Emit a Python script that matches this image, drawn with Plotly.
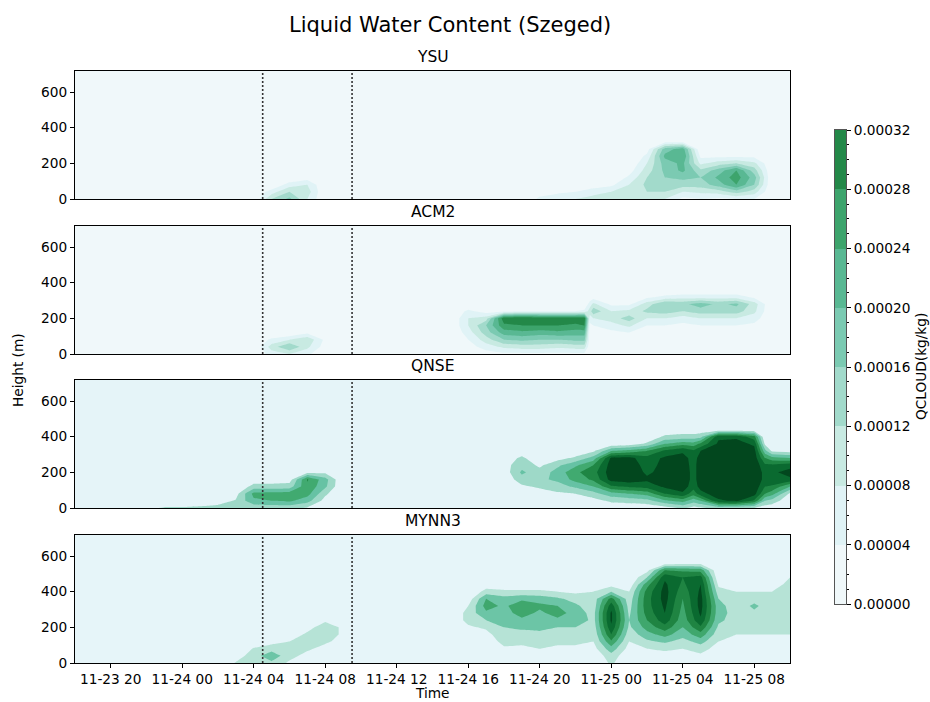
import pandas as pd
import plotly.graph_objects as go

# ---------------------------------------------------------------------------
# Data: cloud water mixing ratio (QCLOUD) over Szeged, in units of 1e-5 kg/kg.
# Each model is stored as a list of profile columns: the hour of each column
# (hours after 2021-11-23 18:00) and the values from the ground upwards.
# Levels above the last listed value of a profile are cloud-free (0).
# ---------------------------------------------------------------------------
T0 = pd.Timestamp("2021-11-23 18:00")
T_END_HOURS = 40
HEIGHTS = [0, 40, 80, 120, 160, 200, 240, 280, 320, 360, 400, 440, 480, 520, 560, 600, 718]

ysu_hours = [0, 10, 11, 12, 13, 14, 25, 26, 27, 28, 29, 30, 31, 32, 33, 34, 35, 36, 37, 38, 39, 40]
ysu_qc = [
    [], [],
    [12, 6], [17, 12, 6], [8, 10, 8, 2], [],
    [],
    [5, 2], [7, 3], [8, 4, 1], [10, 6, 2], [10, 8, 3],
    [11, 10, 8, 5, 2],
    [10, 12, 13, 12, 10, 8, 5, 2],
    [8, 12, 15, 16, 17, 18, 21, 18, 3],
    [3, 8, 14, 17, 21, 21, 24, 22, 3],
    [4, 9, 14, 16, 13, 7, 3],
    [3, 10, 18, 21, 18, 10, 3],
    [4, 14, 24, 26, 24, 12, 3],
    [4, 10, 16, 18, 14, 9, 3],
    [], [],
]

acm2_hours = [0, 10, 11, 12, 13, 14, 21, 22, 23, 24, 25, 26, 27, 28, 28.5, 28.8, 29,
              30, 31, 32, 33, 34, 35, 36, 37, 38, 39, 40]
acm2_qc = [
    [], [],
    [6, 10, 5], [8, 16, 8], [5, 9, 11, 3], [0, 2, 3],
    [],
    [0, 2, 4, 6, 8, 8, 5],
    [2, 6, 10, 14, 16, 10, 2],
    [3, 9, 16, 22, 27, 31, 3],
    [3, 10, 17, 23, 28, 32, 4],
    [3, 10, 16, 22, 28, 31, 4],
    [3, 9, 16, 23, 28, 31, 4],
    [3, 10, 17, 22, 27, 31, 4],
    [3, 10, 17, 22, 28, 31, 5],
    [0, 1, 2, 2, 3, 6, 10, 6, 1],
    [0, 0, 1, 2, 4, 8, 15, 9, 2],
    [0, 0, 1, 3, 6, 10, 8, 3],
    [0, 0, 1, 4, 9, 14, 9, 3],
    [0, 0, 0, 2, 4, 8, 13, 10, 3],
    [0, 0, 0, 2, 4, 8, 14, 16, 5],
    [0, 0, 0, 1, 3, 6, 12, 15, 6],
    [0, 0, 0, 2, 4, 8, 14, 18, 6],
    [0, 0, 0, 2, 4, 8, 14, 15, 6],
    [0, 0, 0, 2, 4, 8, 14, 17, 6],
    [0, 0, 0, 1, 3, 6, 9, 10, 3],
    [], [],
]

qnse_hours = [0, 4, 5, 6, 7, 8, 9, 10, 11, 12, 13, 14, 15, 24, 25, 26, 27, 28, 29, 30, 31,
              32, 33, 34, 34.6, 35, 36, 37, 38, 38.6, 39, 40]
qnse_qc = [
    [],
    [8], [11, 2], [11, 3], [12, 4], [13, 6], [15, 11, 6],
    [12, 28, 33, 14, 4],
    [13, 30, 34, 14, 4],
    [13, 32, 35, 15, 5],
    [9, 24, 34, 38, 41, 7],
    [2, 6, 12, 22, 24, 8],
    [],
    [0, 0, 0, 0, 2, 4, 6, 4],
    [0, 0, 2, 8, 16, 22, 16, 12, 4],
    [0, 0, 4, 12, 18, 14, 8, 2],
    [0, 2, 8, 16, 22, 24, 18, 6],
    [0, 2, 10, 22, 34, 38, 28, 12, 2],
    [0, 6, 16, 30, 42, 46, 40, 24, 8],
    [3, 12, 26, 48, 64, 66, 65, 62, 30, 2],
    [2, 14, 30, 52, 66, 68, 66, 63, 34, 4],
    [3, 16, 34, 54, 62, 58, 56, 54, 40, 12, 2],
    [5, 28, 50, 62, 64, 64, 63, 62, 52, 30, 12, 2],
    [12, 34, 58, 66, 68, 68, 66, 64, 58, 36, 14, 3],
    [6, 24, 44, 54, 56, 56, 56, 56, 52, 34, 14, 3],
    [8, 30, 56, 64, 66, 66, 66, 64, 60, 42, 16, 4],
    [14, 58, 66, 70, 72, 72, 70, 68, 66, 62, 58, 0],
    [12, 62, 68, 72, 74, 74, 72, 70, 68, 64, 58, 0],
    [10, 48, 64, 68, 70, 70, 68, 66, 64, 58, 44, 0],
    [4, 20, 40, 50, 56, 56, 52, 40, 24, 8],
    [3, 16, 34, 48, 58, 58, 52, 34, 8],
    [0, 2, 8, 30, 58, 64, 56, 30, 6],
]

mynn3_hours = [0, 8, 9, 10, 11, 12, 13, 14, 15, 21, 22, 23, 24, 25, 26, 27, 28, 29, 30,
               31, 32, 33, 34, 35, 36, 37, 38, 39, 40]
mynn3_qc = [
    [], [],
    [11, 4], [18, 16, 11, 3], [18, 26, 16, 6], [8, 14, 14, 10, 4],
    [2, 6, 12, 16, 12, 6], [0, 2, 6, 12, 16, 16, 8], [0, 0, 2, 6, 8, 8, 4],
    [],
    [0, 0, 0, 0, 2, 8, 14, 14, 10, 4],
    [0, 0, 0, 2, 6, 12, 20, 28, 34, 30, 14, 4],
    [0, 2, 8, 14, 18, 20, 24, 26, 28, 24, 12, 4],
    [0, 2, 8, 12, 16, 22, 28, 34, 36, 28, 12, 4],
    [0, 4, 10, 14, 18, 22, 24, 28, 32, 26, 12, 3],
    [0, 2, 8, 12, 16, 20, 28, 34, 30, 22, 10, 2],
    [0, 3, 8, 12, 16, 20, 30, 26, 22, 16, 8, 2],
    [0, 2, 6, 10, 12, 14, 16, 16, 14, 14, 10, 4],
    [12, 16, 26, 38, 50, 58, 62, 62, 56, 44, 20, 6],
    [0, 2, 6, 10, 14, 18, 20, 18, 16, 14, 10, 3],
    [0, 4, 10, 18, 26, 34, 40, 44, 46, 46, 44, 36, 20, 6],
    [2, 6, 12, 22, 34, 46, 56, 60, 62, 64, 64, 62, 58, 40, 4],
    [2, 6, 10, 16, 24, 30, 34, 36, 38, 40, 44, 48, 50, 38, 6],
    [2, 8, 14, 24, 36, 48, 58, 62, 64, 64, 62, 60, 54, 36, 6],
    [0, 2, 6, 10, 14, 18, 22, 24, 24, 20, 14, 8, 2],
    [0, 0, 2, 6, 10, 14, 16, 16, 14, 14, 10, 4],
    [0, 0, 2, 6, 10, 14, 16, 18, 22, 16, 10, 3],
    [0, 0, 2, 6, 10, 14, 16, 16, 14, 14, 10, 4],
    [0, 0, 2, 6, 10, 14, 16, 18, 20, 20, 18, 14, 10, 4],
]

# Reference times marked with dotted lines
MARK_TIMES = ["2021-11-24 04:30", "2021-11-24 09:30"]

# Colour-bar levels (kg/kg)
CBAR_LEVELS = [0.0, 0.00004, 0.00008, 0.00012, 0.00016, 0.00020, 0.00024, 0.00028, 0.00032]

# Band colours (lowest band first) for each contour set
PAL_FINE = ["#f0f8fa", "#e0f3f6", "#c8eae2", "#a2dacb", "#7bcab2", "#59b893", "#3da46c", "#238848"]
PAL_QNSE = ["#e5f4f8", "#9ed9c8", "#66c2a4", "#41aa70", "#1f8644", "#0a6a30", "#02471e"]
PAL_MYNN = ["#e6f5f9", "#b6e3d6", "#6cc5a6", "#3fa76d", "#1f8442", "#0a6a30", "#02471e"]

panels = [
    dict(name="YSU", hours=ysu_hours, qc=ysu_qc, step=0.00004, pal=PAL_FINE),
    dict(name="ACM2", hours=acm2_hours, qc=acm2_qc, step=0.00004, pal=PAL_FINE),
    dict(name="QNSE", hours=qnse_hours, qc=qnse_qc, step=0.0001, pal=PAL_QNSE),
    dict(name="MYNN3", hours=mynn3_hours, qc=mynn3_qc, step=0.0001, pal=PAL_MYNN),
]

W, H = 930, 702
FONT = "DejaVu Sans"
TICK_SIZE = 13.7

# Pixel layout of the figure
PX_LEFT, PX_RIGHT = 75, 790
PANEL_TOPS = [71, 226, 380, 535]
PANEL_H = 128
CB_X0, CB_X1, CB_Y0, CB_Y1 = 835, 846, 130, 604


def px_x(px):
    return px / W


def px_y(py):
    return 1 - py / H


def to_times(hours):
    return [T0 + pd.Timedelta(hours=h) for h in hours]


def build_grid(profiles):
    nz = len(HEIGHTS)
    cols = [list(p) + [0] * (nz - len(p)) for p in profiles]
    return [[cols[j][i] * 1e-5 for j in range(len(cols))] for i in range(nz)]


fig = go.Figure()
layout = dict(
    template="none",
    width=W, height=H, autosize=False,
    margin=dict(l=0, r=0, t=0, b=0, pad=0),
    paper_bgcolor="white", plot_bgcolor="white",
    font=dict(family=FONT, size=TICK_SIZE, color="black"),
    showlegend=False,
)

t_start = T0
t_end = T0 + pd.Timedelta(hours=T_END_HOURS)
annotations = []
shapes = []

for i, p in enumerate(panels):
    k = i + 1
    xa = "x" if k == 1 else f"x{k}"
    ya = "y" if k == 1 else f"y{k}"
    n = len(p["pal"])
    step = p["step"]
    fig.add_trace(go.Contour(
        x=to_times(p["hours"]), y=HEIGHTS, z=build_grid(p["qc"]),
        xaxis=xa, yaxis=ya,
        autocontour=False,
        contours=dict(start=step, end=(n - 1) * step, size=step,
                      coloring="fill", showlines=False),
        colorscale=[[j / (n - 1), c] for j, c in enumerate(p["pal"])],
        line=dict(width=0, smoothing=0), showscale=False, hoverinfo="skip",
    ))
    top = PANEL_TOPS[i]
    bottom = top + PANEL_H
    last = (k == len(panels))
    layout["xaxis" if k == 1 else f"xaxis{k}"] = dict(
        domain=[px_x(PX_LEFT), px_x(PX_RIGHT)],
        anchor=ya, type="date", range=[t_start, t_end],
        showgrid=False, zeroline=False, automargin=False,
        showline=True, mirror=True, linecolor="black", linewidth=1,
        ticks="outside" if last else "", ticklen=4, tickwidth=1, tickcolor="black",
        tick0="2021-11-23 20:00", dtick=4 * 3600 * 1000,
        tickformat="%m-%d %H", showticklabels=last,
        tickfont=dict(size=TICK_SIZE),
        matches=None if k == 1 else "x",
    )
    layout["yaxis" if k == 1 else f"yaxis{k}"] = dict(
        domain=[px_y(bottom), px_y(top)],
        anchor=xa, range=[0, 718],
        tickvals=[0, 200, 400, 600],
        showgrid=False, zeroline=False, automargin=False,
        showline=True, mirror=True, linecolor="black", linewidth=1,
        ticks="outside", ticklen=4, tickwidth=1, tickcolor="black",
        tickfont=dict(size=TICK_SIZE),
    )
    annotations.append(dict(
        text=p["name"], x=px_x((PX_LEFT + PX_RIGHT) / 2), y=px_y(top - 14),
        xref="paper", yref="paper", xanchor="center", yanchor="middle",
        showarrow=False, font=dict(size=15.5),
    ))
    for mt in MARK_TIMES:
        shapes.append(dict(
            type="line", xref=xa, yref=f"{ya} domain",
            x0=mt, x1=mt, y0=0, y1=1,
            line=dict(color="#333333", width=1.6, dash="2px,2px"),
        ))

# Colour bar drawn as its own small axis
cb_centers = [(CBAR_LEVELS[j] + CBAR_LEVELS[j + 1]) / 2 for j in range(len(CBAR_LEVELS) - 1)]
nb = len(cb_centers)
cb_scale = []
for j, c in enumerate(PAL_FINE):
    cb_scale.append([j / nb, c])
    cb_scale.append([(j + 1) / nb, c])
fig.add_trace(go.Heatmap(
    x=[0], y=cb_centers, z=[[v] for v in cb_centers],
    zmin=CBAR_LEVELS[0], zmax=CBAR_LEVELS[-1],
    colorscale=cb_scale, showscale=False, hoverinfo="skip",
    xaxis="x5", yaxis="y5",
))
layout["xaxis5"] = dict(
    domain=[px_x(CB_X0), px_x(CB_X1)], anchor="y5", range=[-0.5, 0.5],
    showticklabels=False, ticks="", showgrid=False, zeroline=False, automargin=False,
    showline=True, mirror=True, linecolor="#555555", linewidth=1,
)
layout["yaxis5"] = dict(
    domain=[px_y(CB_Y1), px_y(CB_Y0)], anchor="x5", side="right",
    range=[CBAR_LEVELS[0], CBAR_LEVELS[-1]],
    tickvals=CBAR_LEVELS, tickformat=".5f",
    ticks="outside", ticklen=4, tickwidth=1, tickcolor="black",
    minor=dict(dtick=0.00001, tick0=0, ticks="outside", ticklen=2, tickcolor="black"),
    showgrid=False, zeroline=False, automargin=False,
    showline=True, mirror=True, linecolor="#555555", linewidth=1,
    tickfont=dict(size=TICK_SIZE),
)

annotations += [
    dict(text="Liquid Water Content (Szeged)", x=px_x(450), y=px_y(25),
         xref="paper", yref="paper", xanchor="center", yanchor="middle",
         showarrow=False, font=dict(size=21)),
    dict(text="Height (m)", x=px_x(18), y=px_y(370), textangle=-90,
         xref="paper", yref="paper", xanchor="center", yanchor="middle",
         showarrow=False, font=dict(size=TICK_SIZE)),
    dict(text="Time", x=px_x(432), y=px_y(693),
         xref="paper", yref="paper", xanchor="center", yanchor="middle",
         showarrow=False, font=dict(size=TICK_SIZE)),
    dict(text="QCLOUD(kg/kg)", x=px_x(921), y=px_y(367), textangle=-90,
         xref="paper", yref="paper", xanchor="center", yanchor="middle",
         showarrow=False, font=dict(size=TICK_SIZE)),
]

layout["annotations"] = annotations
layout["shapes"] = shapes
fig.update_layout(**layout)
fig.write_html("out.html")
